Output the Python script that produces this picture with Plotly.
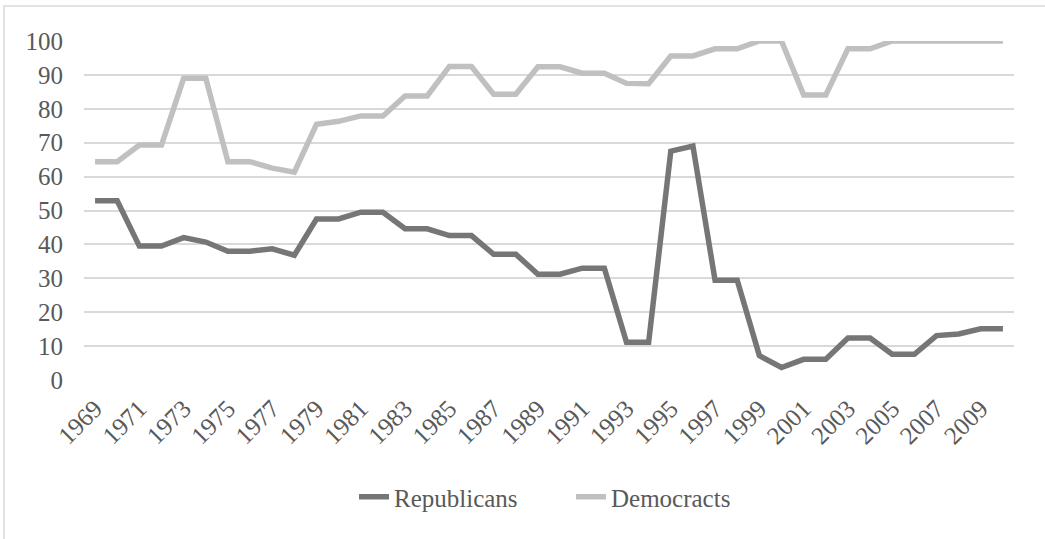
import plotly.graph_objects as go

# Annual series, 1969-2010
years = list(range(1969, 2011))
republicans = [52.9, 52.9, 39.5, 39.5, 42.0, 40.7, 38.0, 38.0, 38.7, 36.8,
               47.5, 47.5, 49.5, 49.5, 44.6, 44.6, 42.6, 42.6, 37.1, 37.1,
               31.2, 31.2, 33.0, 33.0, 11.1, 11.1, 67.5, 69.0, 29.4, 29.4,
               7.2, 3.7, 6.1, 6.1, 12.4, 12.4, 7.6, 7.6, 13.1, 13.6,
               15.1, 15.1]
democrats = [64.4, 64.4, 69.3, 69.3, 89.0, 89.0, 64.4, 64.4, 62.5, 61.3,
             75.4, 76.3, 77.9, 77.9, 83.8, 83.8, 92.5, 92.5, 84.3, 84.3,
             92.4, 92.4, 90.5, 90.5, 87.5, 87.4, 95.6, 95.6, 97.7, 97.7,
             100, 100, 84.1, 84.1, 97.7, 97.7, 100, 100, 100, 100,
             100, 100]
year_ticks = list(range(1969, 2010, 2))
y_ticks = list(range(0, 101, 10))

FONT = "Liberation Serif"
TEXT = "#595959"
FS = 25

fig = go.Figure()
fig.add_trace(go.Scatter(x=years, y=republicans, name="Republicans", mode="lines",
                         line=dict(color="#767676", width=5.5)))
fig.add_trace(go.Scatter(x=years, y=democrats, name="Democracts", mode="lines",
                         line=dict(color="#c0c0c0", width=5.5)))

L, R, T, B = 84, 31, 41, 159
W, H = 1045, 539
pw, ph = W - L - R, H - T - B

def px_x(p):
    return (p - L) / pw

def px_y(p):
    return (H - B - p) / ph

fig.update_layout(
    width=W, height=H,
    margin=dict(l=L, r=R, t=T, b=B),
    paper_bgcolor="white", plot_bgcolor="white",
    font=dict(family=FONT, size=FS, color=TEXT),
    showlegend=True,
    legend=dict(orientation="h", x=px_x(354), xanchor="left", y=px_y(497), yanchor="middle",
                font=dict(family=FONT, size=FS, color=TEXT), entrywidth=172,
                entrywidthmode="pixels"),
    xaxis=dict(range=[1968.5, 2010.5], tickvals=year_ticks, tickangle=-45,
               showgrid=False, zeroline=False, showline=False, ticks="",
               ticklabelstandoff=8,
               tickfont=dict(family=FONT, size=FS, color=TEXT)),
    yaxis=dict(range=[0, 100], tickvals=y_ticks, showgrid=True, gridcolor="#d9d9d9",
               gridwidth=1.5, zeroline=False, showline=False, ticks="",
               ticklabelstandoff=20,
               tickfont=dict(family=FONT, size=FS, color=TEXT)),
    shapes=[dict(type="rect", xref="paper", yref="paper",
                 x0=px_x(4), x1=px_x(1060), y0=px_y(560), y1=px_y(6),
                 line=dict(color="#d9d9d9", width=1.5), fillcolor="rgba(0,0,0,0)",
                 layer="below")],
)

fig.write_html("out.html")
